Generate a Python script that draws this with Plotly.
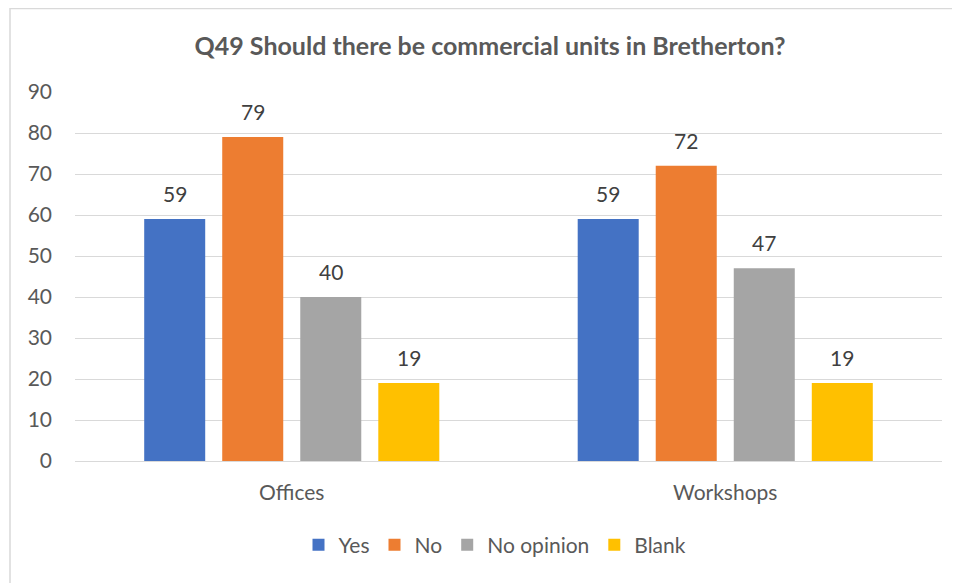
import plotly.graph_objects as go

# Data
categories = ["Offices", "Workshops"]
series_names = ["Yes", "No", "No opinion", "Blank"]
yes_vals = [59, 59]
no_vals = [79, 72]
no_opinion_vals = [40, 47]
blank_vals = [19, 19]
y_ticks = [0, 10, 20, 30, 40, 50, 60, 70, 80, 90]

colors = ["#4472C4", "#ED7D31", "#A5A5A5", "#FFC000"]
all_vals = [yes_vals, no_vals, no_opinion_vals, blank_vals]

FONT = "Lato, Calibri, Carlito, sans-serif"

# page has an 8px body margin, so the figure is a bit smaller than the window
W, H = 952, 575
L, T, PW, PH = 67, 84, 867, 369

fig = go.Figure()
for name, vals, col in zip(series_names, all_vals, colors):
    fig.add_trace(go.Bar(x=categories, y=vals, name=name, marker_color=col,
                         marker_line_width=0))

# data labels above each bar, shifted to match its slot in the group
slot_px = 78
for i, vals in enumerate(all_vals):
    for cat, v in zip(categories, vals):
        fig.add_annotation(x=cat, y=v, text=str(v), showarrow=False,
                           xref="x", yref="y", yanchor="bottom",
                           xshift=(i - 1.5) * slot_px, yshift=11,
                           font=dict(size=21, color="#404040", family=FONT))

# outer chart border
fig.add_shape(type="rect", xref="paper", yref="paper",
              x0=(2 - L) / PW, x1=1.2, y0=-0.6, y1=(T + PH - 0.5) / PH,
              line=dict(color="#D9D9D9", width=1.5), layer="below")

fig.update_layout(
    width=W, height=H,
    margin=dict(l=L, r=W - L - PW, t=T, b=H - T - PH),
    paper_bgcolor="white", plot_bgcolor="white",
    barmode="group", bargap=0.28, bargroupgap=0.218,
    title=dict(text="<b>Q49 Should there be commercial units in Bretherton?</b>",
               x=482 / W, xanchor="center", y=1 - 38 / H, yanchor="middle",
               font=dict(size=25, color="#595959", family=FONT)),
    font=dict(family=FONT, size=21, color="#595959"),
    legend=dict(orientation="h", x=(487 - L) / PW, xanchor="center",
                y=-(537 - (T + PH)) / PH, yanchor="middle",
                font=dict(size=21, color="#595959"), traceorder="normal",
                itemwidth=30),
    showlegend=True,
)
fig.update_xaxes(showgrid=False, showline=False, ticks="",
                 ticklabelstandoff=17,
                 tickfont=dict(size=21, color="#595959"))
fig.update_yaxes(range=[0, 90], tickvals=y_ticks, showgrid=True,
                 gridcolor="#D9D9D9", gridwidth=1.3, zeroline=True,
                 zerolinecolor="#D9D9D9", zerolinewidth=1.3,
                 ticks="", ticklabelstandoff=22,
                 tickfont=dict(size=21, color="#595959"))

fig.write_html("out.html")
